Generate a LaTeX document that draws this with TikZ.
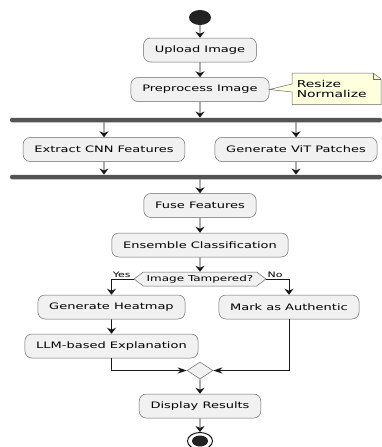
\documentclass[tikz,border=0pt]{standalone}
\usepackage{fontspec}
\setmainfont{DejaVu Sans}
\usetikzlibrary{arrows.meta,shapes.geometric,shapes.symbols}
\definecolor{actfill}{HTML}{F1F1F1}
\definecolor{actline}{HTML}{181818}
\definecolor{barfill}{HTML}{555555}
\definecolor{dotfill}{HTML}{222222}
\definecolor{notefill}{HTML}{FEFFDD}
\begin{document}
\begin{tikzpicture}[x=1pt,y=-1pt,>={Stealth[length=6pt,width=9pt,inset=2pt]},
  action/.style={draw=actline!65,fill=actfill,line width=0.5pt,rounded corners=7pt,
    minimum height=24pt,inner xsep=7.75pt,inner ysep=0pt,xscale=1.46,
    font=\fontsize{8.9}{10}\selectfont},
  syncbar/.style={fill=barfill,rounded corners=2pt,minimum width=372pt,
    minimum height=4.5pt,inner sep=0pt},
  decision/.style={signal,signal to=west and east,signal pointer angle=97,
    draw=actline!65,fill=actfill,line width=0.5pt,minimum height=14pt,
    inner xsep=2.4pt,inner ysep=0pt,xscale=1.46,font=\fontsize{8.2}{9}\selectfont},
  mergept/.style={diamond,draw=actline!65,fill=actfill,line width=0.5pt,
    minimum width=26pt,minimum height=17pt,inner sep=0pt},
  memo/.style={inner sep=0pt,align=left,xscale=1.46,font=\fontsize{9.5}{10}\selectfont},
  guard/.style={inner xsep=0.5pt,inner ysep=1pt,xscale=1.46,font=\fontsize{7.5}{8}\selectfont},
  arrowline/.style={->,line width=0.9pt,draw=actline},
  arrowside/.style={arrowline,>={Stealth[length=9pt,width=6pt,inset=3pt]}}]
  \useasboundingbox (0,0) rectangle (381,447);
  \node[ellipse,fill=dotfill,minimum width=22pt,minimum height=15pt,inner sep=0pt] (start) at (200,17.5) {};
  \node[action] (upload) at (200,50) {Upload Image};
  \node[action] (prep) at (200,89.5) {Preprocess Image};
  \node[syncbar] (fork) at (196,120) {};
  \node[action] (cnn) at (104,149.5) {Extract CNN Features};
  \node[action] (vit) at (296,149.5) {Generate ViT Patches};
  \node[syncbar] (join) at (196,177) {};
  \node[action] (fuse) at (200,205.5) {Fuse Features};
  \node[action] (ens) at (200,245) {Ensemble Classification};
  \node[decision] (dec) at (200,279) {Image Tampered?};
  \node[action] (heat) at (111.5,307) {Generate Heatmap};
  \node[action] (mark) at (289,307) {Mark as Authentic};
  \node[action] (llm) at (111.5,346) {LLM-based Explanation};
  \node[mergept] (merge) at (200,370.5) {};
  \node[action] (disp) at (200,406) {Display Results};
  \node[ellipse,draw=actline,line width=1pt,fill=white,minimum width=25pt,minimum height=17pt,inner sep=0pt] (stop) at (200,441) {};
  \fill[dotfill] (stop.center) ellipse [x radius=8pt,y radius=5.5pt];
  \draw[draw=actline!65,fill=notefill,line width=0.5pt] (292,73) -- (373,73) -- (381,79)
    -- (381,104.5) -- (292,104.5) -- (292,92) -- (prep.east) -- (292,84) -- cycle;
  \draw[actline!65,line width=0.5pt] (373,73) -- (373,79) -- (381,79);
  \node[memo,anchor=west] (note) at (296.5,89) {Resize\\Normalize};
  \foreach \from/\to in {start/upload,upload/prep,fuse/ens,ens/dec,heat/llm,merge/disp,disp/stop}
    \draw[arrowline] (\from) -- (\to);
  \draw[arrowline] (prep) -- (prep |- fork.north);
  \foreach \lane in {cnn,vit}{
    \draw[arrowline] (\lane |- fork.south) -- (\lane);
    \draw[arrowline] (\lane) -- (\lane |- join.north);
  }
  \draw[arrowline] (fuse |- join.south) -- (fuse);
  \draw[arrowline] (dec.west) -| node[guard,pos=0.5,anchor=south west] {Yes} (heat);
  \draw[arrowline] (dec.east) -| node[guard,pos=0,anchor=south west] {No} (mark);
  \draw[arrowside] (llm) |- (merge.west);
  \draw[arrowside] (mark) |- (merge.east);
\end{tikzpicture}
\end{document}
